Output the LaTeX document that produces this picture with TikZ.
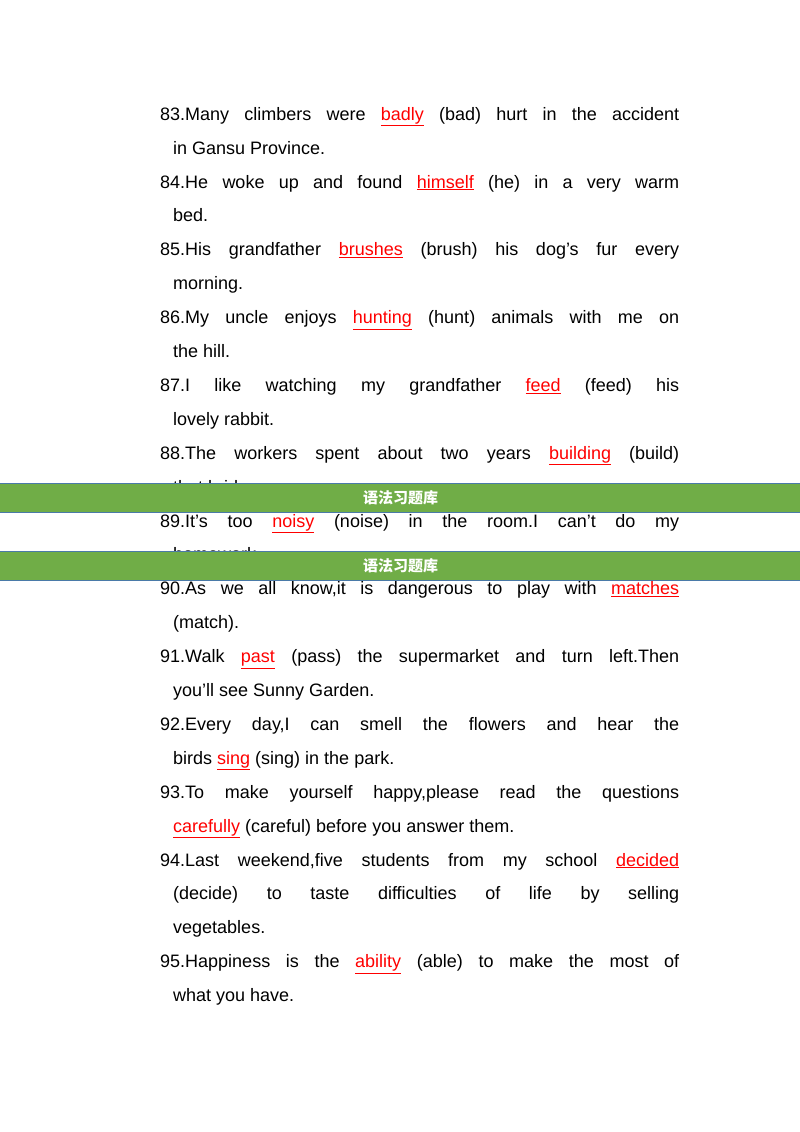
\documentclass[tikz,border=0pt]{standalone}
\usepackage{fontspec}
\setmainfont{Liberation Sans}
\newfontfamily\cjk{Noto Sans CJK SC}
\definecolor{bannergreen}{HTML}{70AD47}
\definecolor{bannerline}{HTML}{4A7AA8}
\newcommand{\ans}[1]{{\color{red}$\underline{\hbox{#1}}$}}
\begin{document}
\begin{tikzpicture}[x=1pt,y=1pt,
  banner/.style={fill=bannergreen,draw=bannerline,line width=1pt,minimum width=802pt,minimum height=29pt,inner sep=0pt,anchor=north west,text=white,font=\cjk\bfseries\fontsize{15}{15}\selectfont},
  body/.style={anchor=north west,inner sep=0pt,text width=519pt,align=justify,font=\fontsize{18}{33.9}\selectfont}]
\useasboundingbox[fill=white] (0,0) rectangle (800,-1132);
\node[body] (txt) at (160,-107) {\setlength{\parindent}{0pt}\hangindent=13pt\hangafter=1
83.Many climbers were \ans{badly} (bad) hurt in the accident\linebreak in Gansu Province.\par
\hangindent=13pt\hangafter=1 84.He woke up and found \ans{himself} (he) in a very warm\linebreak bed.\par
\hangindent=13pt\hangafter=1 85.His grandfather \ans{brushes} (brush) his dog’s fur every\linebreak morning.\par
\hangindent=13pt\hangafter=1 86.My uncle enjoys \ans{hunting} (hunt) animals with me on\linebreak the hill.\par
\hangindent=13pt\hangafter=1 87.I like watching my grandfather \ans{feed} (feed) his\linebreak lovely rabbit.\par
\hangindent=13pt\hangafter=1 88.The workers spent about two years \ans{building} (build)\linebreak that bridge.\par
\hangindent=13pt\hangafter=1 89.It’s too \ans{noisy} (noise) in the room.I can’t do my\linebreak homework.\par
\hangindent=13pt\hangafter=1 90.As we all know,it is dangerous to play with \ans{matches}\linebreak (match).\par
\hangindent=13pt\hangafter=1 91.Walk \ans{past} (pass) the supermarket and turn left.Then\linebreak you’ll see Sunny Garden.\par
\hangindent=13pt\hangafter=1 92.Every day,I can smell the flowers and hear the\linebreak birds \ans{sing} (sing) in the park.\par
\hangindent=13pt\hangafter=1 93.To make yourself happy,please read the questions\linebreak \ans{carefully} (careful) before you answer them.\par
\hangindent=13pt\hangafter=1 94.Last weekend,five students from my school \ans{decided}\linebreak (decide) to taste difficulties of life by selling\linebreak vegetables.\par
\hangindent=13pt\hangafter=1 95.Happiness is the \ans{ability} (able) to make the most of\linebreak what you have.\par};
\node[banner] (b1) at (-1,-483) {语法习题库};
\node[banner] (b2) at (-1,-551) {语法习题库};
\end{tikzpicture}
\end{document}
